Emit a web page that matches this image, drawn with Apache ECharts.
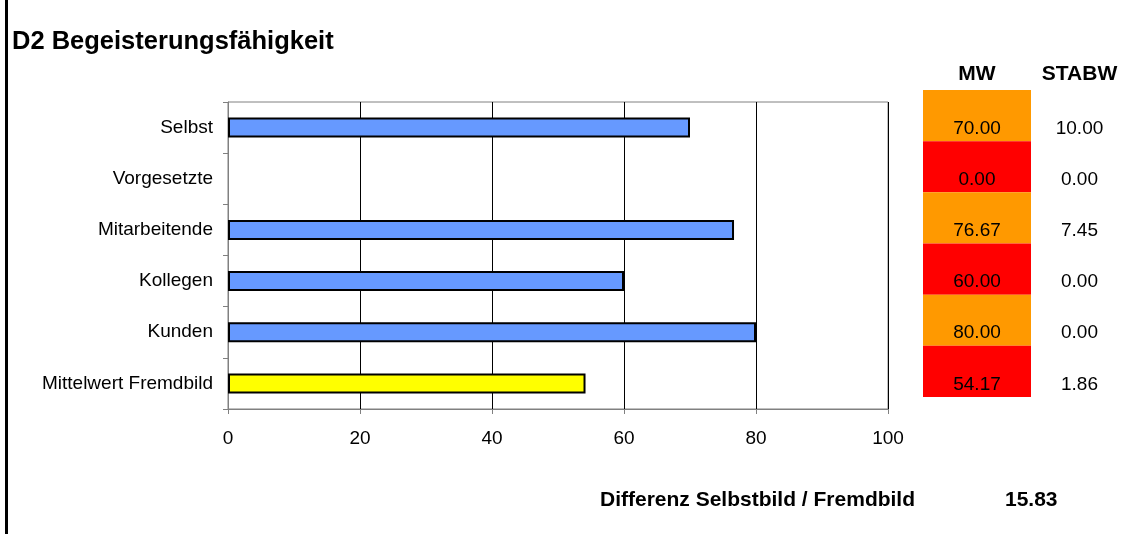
<!DOCTYPE html>
<html>
<head>
<meta charset="utf-8">
<script src="https://cdn.jsdelivr.net/npm/echarts@6/dist/echarts.min.js"></script>
<style>
html,body{margin:0;padding:0;background:#fff;}
#chart{width:1128px;height:534px;}
</style>
</head>
<body>
<div id="chart"></div>
<script>
// ---- data ----
const categories = ['Selbst', 'Vorgesetzte', 'Mitarbeitende', 'Kollegen', 'Kunden', 'Mittelwert Fremdbild'];
const mwValues = [70.00, 0.00, 76.67, 60.00, 80.00, 54.17];
const stabwValues = [10.00, 0.00, 7.45, 0.00, 0.00, 1.86];
const xTicks = [0, 20, 40, 60, 80, 100];
const titleText = 'D2 Begeisterungsfähigkeit';
const diffLabel = 'Differenz Selbstbild / Fremdbild';
const diffValue = [15.83];

const FONT = "'Liberation Sans', Arial, sans-serif";
const BLUE = '#6699FF', YELLOW = '#FFFF00', ORANGE = '#FF9900', RED = '#FF0000';
const lastIdx = categories.length - 1;

const chart = echarts.init(document.getElementById('chart'), null, {renderer: 'canvas'});

const option = {
  backgroundColor: '#fff',
  animation: false,
  textStyle: {fontFamily: FONT},
  title: [
    {text: titleText, left: 12, top: 29, padding: 0,
     textStyle: {fontFamily: FONT, fontSize: 25.5, fontWeight: 'bold', color: '#000'}},
    {text: diffLabel, left: 600, top: 490, padding: 0,
     textStyle: {fontFamily: FONT, fontSize: 21, fontWeight: 'bold', color: '#000'}},
    {text: diffValue[0].toFixed(2), left: 1005, top: 490, padding: 0,
     textStyle: {fontFamily: FONT, fontSize: 21, fontWeight: 'bold', color: '#000'}}
  ],
  graphic: [
    {type: 'rect', left: 5, top: 0, shape: {width: 3, height: 534}, style: {fill: '#000'}}
  ],
  grid: [
    {left: 228, right: 240, top: 102, bottom: 125, show: true, borderColor: '#808080', borderWidth: 1, backgroundColor: 'transparent'},
    {left: 923, width: 108, top: 90, height: 307},
    {left: 1031, width: 108, top: 90, height: 307}
  ],
  xAxis: [
    {gridIndex: 0, type: 'value', min: xTicks[0], max: xTicks[xTicks.length - 1], interval: xTicks[1] - xTicks[0],
     axisLine: {show: true, lineStyle: {color: '#808080', width: 1}},
     axisTick: {show: true, length: 5, lineStyle: {color: '#808080'}},
     axisLabel: {margin: 20, fontSize: 19, color: '#000', fontFamily: FONT},
     splitLine: {show: true, lineStyle: {color: '#000', width: 1}}},
    {gridIndex: 1, type: 'value', min: 0, max: 1, position: 'top',
     name: 'MW', nameLocation: 'middle', nameGap: 5,
     nameTextStyle: {fontFamily: FONT, fontSize: 21, fontWeight: 'bold', color: '#000'},
     axisLine: {show: false}, axisTick: {show: false}, axisLabel: {show: false}, splitLine: {show: false}},
    {gridIndex: 2, type: 'value', min: 0, max: 1, position: 'top',
     name: 'STABW', nameLocation: 'middle', nameGap: 5,
     nameTextStyle: {fontFamily: FONT, fontSize: 21, fontWeight: 'bold', color: '#000'},
     axisLine: {show: false}, axisTick: {show: false}, axisLabel: {show: false}, splitLine: {show: false}}
  ],
  yAxis: [
    {gridIndex: 0, type: 'category', data: categories, inverse: true,
     axisLine: {show: true, lineStyle: {color: '#808080', width: 1}},
     axisTick: {show: true, length: 5, lineStyle: {color: '#808080'}},
     axisLabel: {margin: 15, fontSize: 19, color: '#000', fontFamily: FONT},
     splitLine: {show: false}},
    {gridIndex: 1, type: 'category', data: categories, inverse: true, show: false},
    {gridIndex: 2, type: 'category', data: categories, inverse: true, show: false}
  ],
  series: [
    {type: 'bar', xAxisIndex: 0, yAxisIndex: 0, barWidth: 20,
     data: mwValues.map((v, i) => ({value: v, itemStyle: {color: i === lastIdx ? YELLOW : BLUE, borderWidth: v === 0 ? 0 : 2}})),
     itemStyle: {borderColor: '#000', borderWidth: 2},
     label: {show: false}},
    {type: 'bar', xAxisIndex: 1, yAxisIndex: 1, barWidth: '100%',
     data: mwValues.map(v => ({value: 1, itemStyle: {color: v >= 65 ? ORANGE : RED}})),
     label: {show: true, position: 'inside', offset: [0, 13], fontSize: 19, fontFamily: FONT, color: '#000',
             formatter: p => mwValues[p.dataIndex].toFixed(2)}},
    {type: 'bar', xAxisIndex: 2, yAxisIndex: 2, barWidth: '100%',
     data: stabwValues.map(v => ({value: 1})),
     itemStyle: {color: 'rgba(0,0,0,0)'},
     label: {show: true, position: 'inside', offset: [0, 13], fontSize: 19, fontFamily: FONT, color: '#000',
             formatter: p => stabwValues[p.dataIndex].toFixed(2)}}
  ]
};
chart.setOption(option);
</script>
</body>
</html>
